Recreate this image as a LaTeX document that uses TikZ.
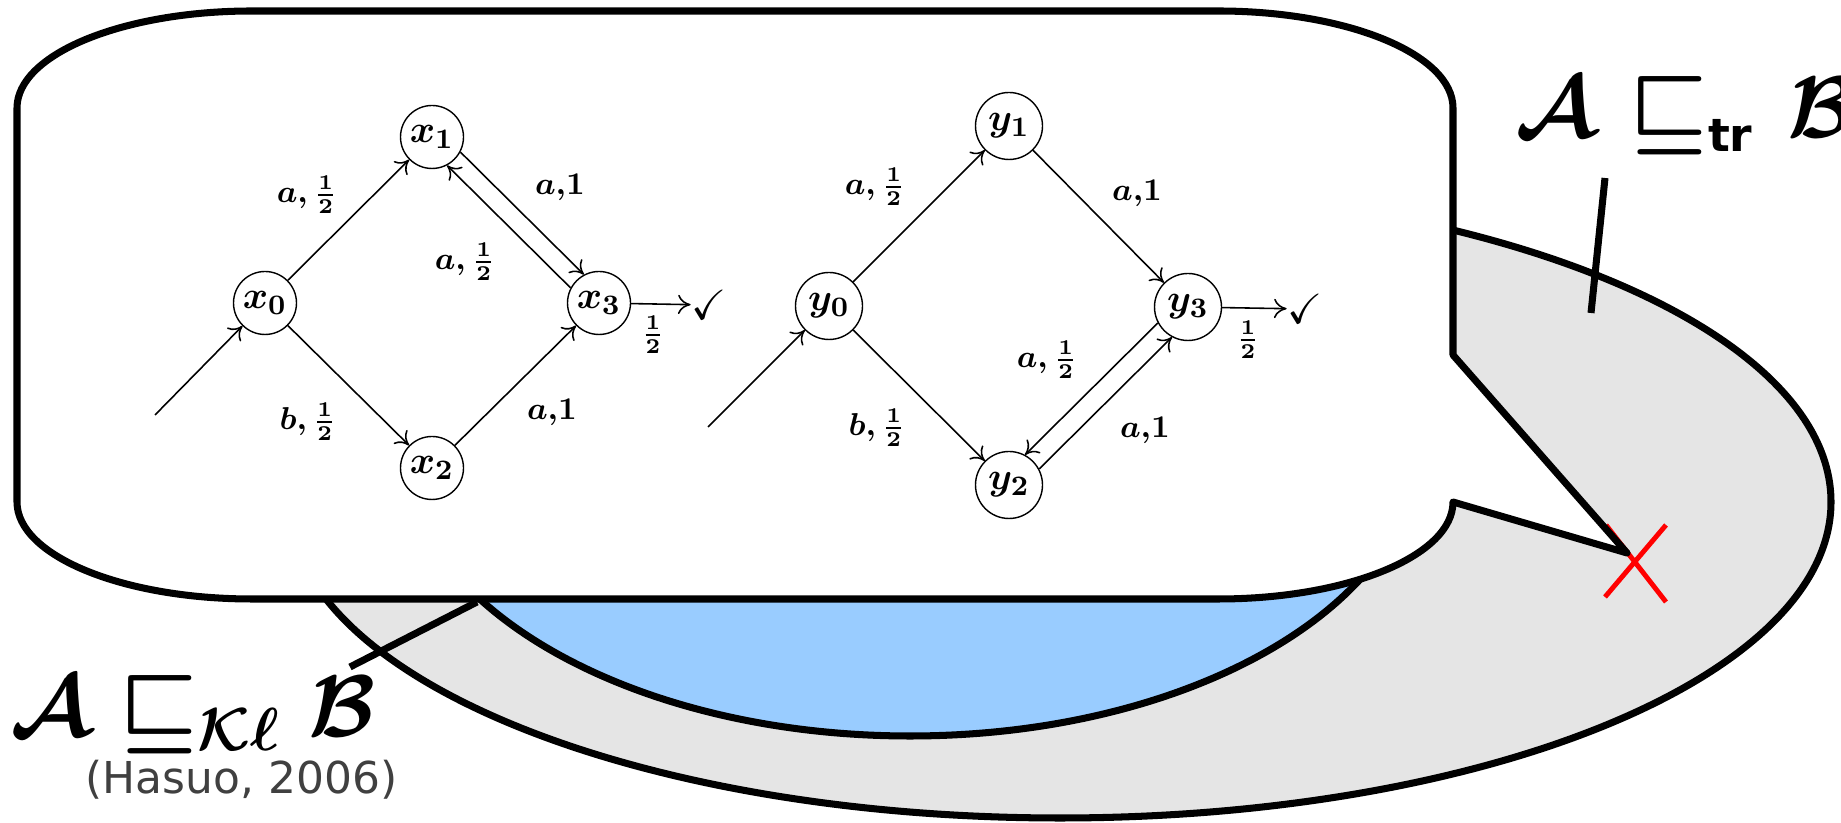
\documentclass[tikz,border=0pt]{standalone}
\usepackage{amsmath,amssymb}
\usepackage{fontspec}
\newfontfamily\dejavu{DejaVu Sans}
\usetikzlibrary{arrows.meta}
\definecolor{gris}{HTML}{E5E5E5}
\definecolor{cielo}{HTML}{99CCFF}

\begin{document}
\begin{tikzpicture}[line width=0.45pt,>={To[length=3.6pt,width=5.5pt]},
  st/.style={circle,draw,line width=0.4pt,minimum size=0.63cm,inner sep=0pt,font=\boldmath\fontsize{11}{12}\selectfont},
  lbl/.style={inner sep=0pt,font=\boldmath\fontsize{9}{10}\selectfont},
  gordo/.style={line width=2pt,line join=round},
  rel/.style={inner sep=0pt,anchor=base west,font=\boldmath\fontsize{26}{28}\selectfont}]
  \useasboundingbox (0,0) rectangle (18.41,8.23);
  % elipses
  \filldraw[gordo,fill=gris] (10.60,3.21) ellipse[x radius=7.71,y radius=3.16];
  \filldraw[gordo,fill=cielo] (9.10,3.83) ellipse[x radius=5.10,y radius=2.96];
  % linea de la etiqueta Kl
  \coordinate (klpie) at (3.50,1.56);
  \coordinate (klcima) at (4.77,2.21);
  \draw[gordo] (klpie) -- (klcima);
  % cruz roja
  \draw[red,line width=1.4pt] (16.06,2.98) -- (16.66,2.21) (16.66,2.98) -- (16.05,2.26);
  % burbuja
  \coordinate (punta) at (16.27,2.70);
  \filldraw[gordo,fill=white] (2.52,8.12) -- (12.18,8.12)
    arc[start angle=90,end angle=0,x radius=2.35,y radius=0.97] -- (14.53,4.68) -- (punta) -- (14.53,3.21)
    arc[start angle=0,end angle=-90,x radius=2.35,y radius=0.97] -- (2.52,2.24)
    arc[start angle=-90,end angle=-180,x radius=2.35,y radius=0.97] -- (0.17,7.15)
    arc[start angle=180,end angle=90,x radius=2.35,y radius=0.97] -- cycle;
  % linea de la etiqueta tr
  \coordinate (trpie) at (15.91,5.10);
  \coordinate (trcima) at (16.05,6.45);
  \draw[gordo] (trcima) -- (trpie);
  % etiquetas
  \node[rel] (reltr) at (15.15,6.85) {$\mathcal{A}\mkern1mu\sqsubseteq_{\mbox{\fontsize{13}{13}\selectfont\dejavu\bfseries tr}}\mkern1mu\mathcal{B}$};
  \node[rel] (relkl) at (0.10,0.86) {$\mathcal{A}\sqsubseteq_{\mathcal{K}\ell}\mathcal{B}$};
  \node[inner sep=0pt,text=black!75,font=\dejavu\fontsize{12.5}{14}\selectfont] (cita) at (2.415,0.43) {(Hasuo, 2006)};
  % automata A
  \node[st] (x0) at (2.65,5.20) {$x_0$};
  \node[st] (x1) at (4.32,6.86) {$x_1$};
  \node[st] (x2) at (4.32,3.55) {$x_2$};
  \node[st] (x3) at (5.99,5.20) {$x_3$};
  \node[inner sep=0pt,font=\fontsize{12}{12}\selectfont] (xok) at (7.09,5.18) {$\checkmark$};
  \coordinate (xin) at (1.55,4.08);
  \draw[->] (xin) -- (x0);
  \draw[->] (x0) -- (x1);
  \draw[->] (x0) -- (x2);
  \draw[->] (x1.-28) -- (x3.118);
  \draw[->] (x3.152) -- (x1.-62);
  \draw[->] (x2) -- (x3);
  \draw[->] (x3) -- (xok);
  \node[lbl] (lx01) at (3.07,6.28) {$a,\frac{1}{2}$};
  \node[lbl] (lx02) at (3.08,4.01) {$b,\frac{1}{2}$};
  \node[lbl] (lx13) at (5.60,6.36) {$a{,}1$};
  \node[lbl] (lx31) at (4.65,5.61) {$a,\frac{1}{2}$};
  \node[lbl] (lx23) at (5.52,4.11) {$a{,}1$};
  \node[lbl] (lx3f) at (6.53,4.88) {$\frac{1}{2}$};
  % automata B
  \node[st,minimum size=0.67cm] (y0) at (8.29,5.17) {$y_0$};
  \node[st,minimum size=0.67cm] (y1) at (10.09,6.97) {$y_1$};
  \node[st,minimum size=0.67cm] (y2) at (10.09,3.38) {$y_2$};
  \node[st,minimum size=0.67cm] (y3) at (11.88,5.16) {$y_3$};
  \node[inner sep=0pt,font=\fontsize{12}{12}\selectfont] (yok) at (13.05,5.14) {$\checkmark$};
  \coordinate (yin) at (7.08,3.96);
  \draw[->] (yin) -- (y0);
  \draw[->] (y0) -- (y1);
  \draw[->] (y0) -- (y2);
  \draw[->] (y1) -- (y3);
  \draw[->] (y3.208) -- (y2.62);
  \draw[->] (y2.28) -- (y3.242);
  \draw[->] (y3) -- (yok);
  \node[lbl] (ly01) at (8.75,6.36) {$a,\frac{1}{2}$};
  \node[lbl] (ly02) at (8.77,3.95) {$b,\frac{1}{2}$};
  \node[lbl] (ly13) at (11.37,6.30) {$a{,}1$};
  \node[lbl] (ly32) at (10.47,4.63) {$a,\frac{1}{2}$};
  \node[lbl] (ly23) at (11.45,3.93) {$a{,}1$};
  \node[lbl] (ly3f) at (12.48,4.83) {$\frac{1}{2}$};
\end{tikzpicture}
\end{document}
